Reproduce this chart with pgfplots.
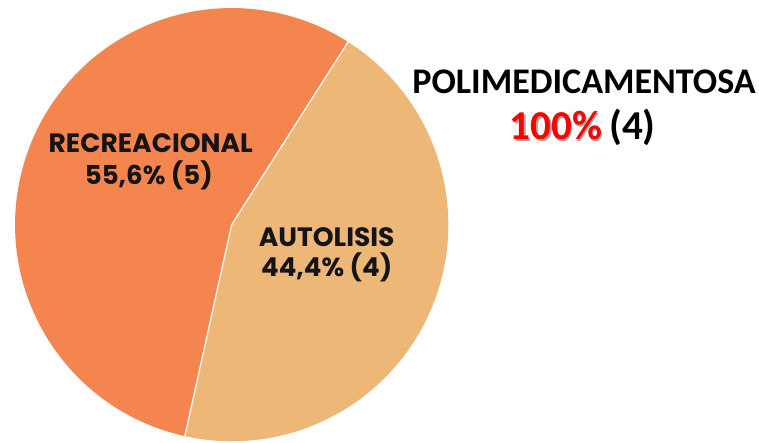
\documentclass[border=0pt]{standalone}
\usepackage{pgfplots}
\pgfplotsset{compat=1.18}
\usepackage{fontspec}
\setmainfont{Carlito}[BoldFont={Carlito Bold}]
\newfontfamily\gothic{Poppins}
\definecolor{rec}{HTML}{F5854F}
\definecolor{aut}{HTML}{EDB777}
\definecolor{txt}{HTML}{141414}
\begin{document}
\begin{tikzpicture}
\begin{axis}[scale only axis, width=759bp, height=440bp,
  xmin=0, xmax=759, ymin=0, ymax=440, hide axis, clip=true]
% data: RECREACIONAL 5, AUTOLISIS 4
\pgfmathsetmacro{\valRec}{5}
\pgfmathsetmacro{\valAut}{4}
\pgfmathsetmacro{\total}{\valRec+\valAut}
\pgfmathsetmacro{\startA}{57.5}
\pgfmathsetmacro{\endA}{\startA-360*\valAut/\total}
\pgfmathsetmacro{\endR}{\endA-360*\valRec/\total}
\fill[aut] (axis cs:230.5,216.5) -- ++(\startA:215.5bp)
  arc[start angle=\startA, end angle=\endA, radius=215.5bp] -- cycle;
\fill[rec] (axis cs:230.5,216.5) -- ++(\endA:215.5bp)
  arc[start angle=\endA, end angle=\endR, radius=215.5bp] -- cycle;
\draw[white, line width=1.2bp] (axis cs:230.5,216.5) -- ++(\startA:216bp);
\draw[white, line width=1.2bp] (axis cs:230.5,216.5) -- ++(\endA:216bp);
% pie labels
\node[anchor=base, text=txt, font=\gothic\bfseries\fontsize{26.5}{30}\selectfont] at (axis cs:150,288.3) {RECREACIONAL};
\node[anchor=base, text=txt, font=\gothic\bfseries\fontsize{26}{30}\selectfont] at (axis cs:148,256) {55,6\% (5)};
\node[anchor=base, text=txt, font=\gothic\bfseries\fontsize{26.5}{30}\selectfont] at (axis cs:325,195) {AUTOLISIS};
\node[anchor=base, text=txt, font=\gothic\bfseries\fontsize{26}{30}\selectfont] at (axis cs:325,165) {44,4\% (4)};
% side annotation
\node[anchor=base, text=black, font=\fontsize{36}{40}\selectfont] at (axis cs:581,347) {\textbf{POLIMEDICAMENTOSA}};
\node[anchor=base west, inner sep=0pt, text=black, font=\fontsize{41}{44}\selectfont\bfseries] at (axis cs:507,301)
  {\rlap{\hspace{1.5bp}\raisebox{-1.5bp}{\textcolor{gray!70}{100\%}}}\textcolor{red}{100\%}\hspace{7bp}(4)};
\end{axis}
\end{tikzpicture}
\end{document}
